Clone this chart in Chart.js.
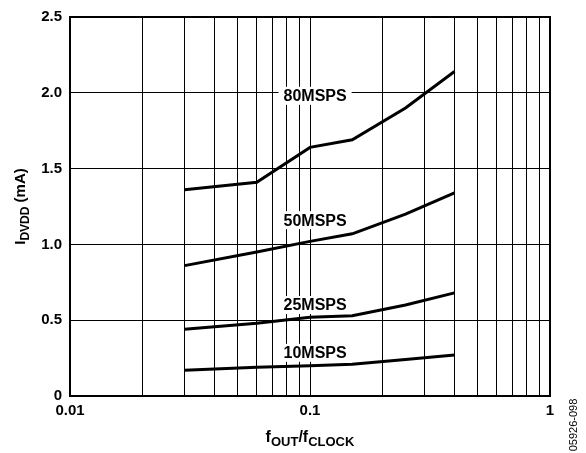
<!DOCTYPE html>
<html>
<head>
<meta charset="utf-8">
<script src="https://cdn.jsdelivr.net/npm/chart.js@4"></script>
<style>
  body { margin: 0; background: #fff; }
  canvas { display: block; }
</style>
</head>
<body>
<canvas id="chart" width="586" height="453"></canvas>
<script>
// f_OUT / f_CLOCK sample points
const ratios = [0.03, 0.06, 0.1, 0.15, 0.25, 0.4];

// I_DVDD (mA) for each clock rate
const msps80 = [1.36, 1.41, 1.64, 1.69, 1.90, 2.14];
const msps50 = [0.86, 0.95, 1.02, 1.07, 1.20, 1.34];
const msps25 = [0.44, 0.48, 0.52, 0.53, 0.60, 0.68];
const msps10 = [0.17, 0.19, 0.20, 0.21, 0.24, 0.27];

const seriesNames = ['80MSPS', '50MSPS', '25MSPS', '10MSPS'];
// where each name sits (data coords)
const nameX = [0.105, 0.105, 0.105, 0.105];
const nameY = [1.98, 1.16, 0.60, 0.285];

const xTicks = [0.01, 0.02, 0.03, 0.04, 0.05, 0.06, 0.07, 0.08, 0.09,
                0.1, 0.2, 0.3, 0.4, 0.5, 0.6, 0.7, 0.8, 0.9, 1];
const xTickLabels = { 0.01: '0.01', 0.1: '0.1', 1: '1' };
const yTickLabels = { 0: '0', 0.5: '0.5', 1: '1.0', 1.5: '1.5', 2: '2.0', 2.5: '2.5' };

const FONT = '"Liberation Sans", Arial, sans-serif';

function toPoints(ys) {
    return ratios.map((r, i) => ({ x: r, y: ys[i] }));
}

function lineSet(name, ys) {
    return {
        label: name,
        data: toPoints(ys),
        borderColor: '#000',
        borderWidth: 3,
        pointRadius: 0,
        tension: 0,
        fill: false
    };
}

// draws text made of normal + subscript pieces, centred on (0,0) of current transform
function drawSubText(ctx, parts, big, small) {
    let total = 0;
    parts.forEach(p => {
        ctx.font = 'bold ' + (p.sub ? small : big) + 'px ' + FONT;
        p.w = ctx.measureText(p.t).width;
        total += p.w;
    });
    let x = -total / 2;
    ctx.textBaseline = 'alphabetic';
    ctx.textAlign = 'left';
    parts.forEach(p => {
        ctx.font = 'bold ' + (p.sub ? small : big) + 'px ' + FONT;
        ctx.fillText(p.t, x, p.sub ? 4 : 0);
        x += p.w;
    });
}

const decorations = {
    id: 'decorations',
    afterDatasetsDraw(chart) {
        const ctx = chart.ctx;
        const xs = chart.scales.x, ys = chart.scales.y;
        const area = chart.chartArea;
        ctx.save();
        // series names with white boxes
        ctx.font = 'bold 16px ' + FONT;
        ctx.textAlign = 'center';
        ctx.textBaseline = 'middle';
        seriesNames.forEach((n, i) => {
            const px = xs.getPixelForValue(nameX[i]);
            const py = ys.getPixelForValue(nameY[i]);
            const w = ctx.measureText(n).width;
            ctx.fillStyle = '#fff';
            ctx.fillRect(px - w / 2 - 5, py - 9, w + 10, 18);
            ctx.fillStyle = '#000';
            ctx.fillText(n, px, py + 1);
        });
        // frame
        ctx.strokeStyle = '#000';
        ctx.lineWidth = 2;
        ctx.strokeRect(area.left, area.top, area.right - area.left, area.bottom - area.top);

        // y title
        ctx.fillStyle = '#000';
        ctx.save();
        ctx.translate(25, (area.top + area.bottom) / 2);
        ctx.rotate(-Math.PI / 2);
        drawSubText(ctx, [{ t: 'I' }, { t: 'DVDD', sub: true }, { t: ' (mA)' }], 15, 12);
        ctx.restore();

        // x title
        ctx.save();
        ctx.translate((area.left + area.right) / 2, 442);
        drawSubText(ctx, [{ t: 'f' }, { t: 'OUT', sub: true }, { t: '/f' }, { t: 'CLOCK', sub: true }], 16, 13);
        ctx.restore();

        // figure code
        ctx.save();
        ctx.translate(574, 425);
        ctx.rotate(-Math.PI / 2);
        ctx.font = '11px ' + FONT;
        ctx.textAlign = 'center';
        ctx.textBaseline = 'middle';
        ctx.fillStyle = '#000';
        ctx.fillText('05926-098', 0, 0);
        ctx.restore();

        ctx.restore();
    }
};

new Chart(document.getElementById('chart').getContext('2d'), {
    type: 'line',
    data: {
        datasets: [
            lineSet('80MSPS', msps80),
            lineSet('50MSPS', msps50),
            lineSet('25MSPS', msps25),
            lineSet('10MSPS', msps10)
        ]
    },
    options: {
        responsive: false,
        animation: false,
        devicePixelRatio: 1,
        layout: { padding: { left: 0, top: 12, right: 36, bottom: 0 } },
        plugins: {
            legend: { display: false },
            tooltip: { enabled: false }
        },
        scales: {
            x: {
                type: 'logarithmic',
                min: 0.01,
                max: 1,
                afterBuildTicks: s => { s.ticks = xTicks.map(v => ({ value: v })); },
                afterFit: s => { s.height = 57; },
                grid: { color: '#000', lineWidth: 1, drawTicks: false },
                border: { color: '#000', width: 2 },
                ticks: {
                    autoSkip: false,
                    maxRotation: 0,
                    padding: 6,
                    color: '#000',
                    font: { family: FONT, size: 15, weight: 'bold' },
                    callback: v => xTickLabels[v] || ''
                }
            },
            y: {
                min: 0,
                max: 2.5,
                afterFit: s => { s.width = 70; },
                grid: { color: '#000', lineWidth: 1, drawTicks: false },
                border: { color: '#000', width: 2 },
                ticks: {
                    stepSize: 0.5,
                    padding: 8,
                    color: '#000',
                    font: { family: FONT, size: 15, weight: 'bold' },
                    callback: v => yTickLabels[v] || ''
                }
            }
        }
    },
    plugins: [decorations]
});
</script>
</body>
</html>
